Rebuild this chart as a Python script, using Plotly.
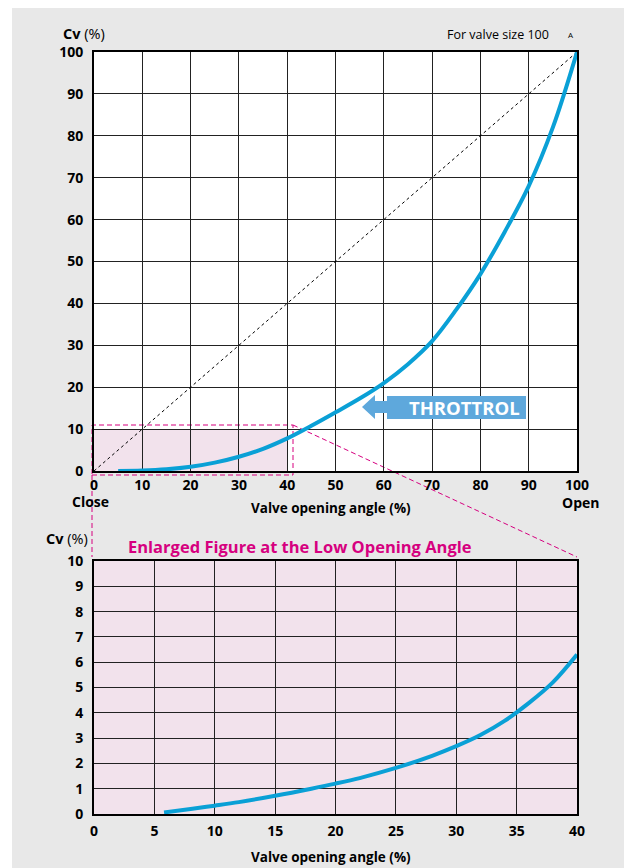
import plotly.graph_objects as go

# the page body adds an 8px margin, so the figure is 8px smaller than the window
OFF = 8
W, H = 632 - OFF, 868 - OFF

# ---------------- data ----------------
top_angle = [5, 10, 15, 20, 25, 30, 35, 40, 45, 50, 55, 60, 65, 70, 75, 80, 85, 90, 95, 100]
top_cv = [0.0, 0.1, 0.4, 1.0, 2.0, 3.4, 5.3, 7.8, 10.8, 14.0, 17.3, 21.0, 25.5, 31.0, 38.5, 47.0, 57.0, 68.0, 82.0, 100.0]

linear_angle = [0, 100]
linear_cv = [0, 100]

low_angle = [5.8, 8, 10, 12, 15, 18, 20, 22, 25, 28, 30, 32, 34, 36, 38, 40]
low_cv = [0.06, 0.2, 0.33, 0.47, 0.72, 1.0, 1.2, 1.42, 1.82, 2.3, 2.68, 3.12, 3.68, 4.38, 5.2, 6.3]

top_xticks = [0, 10, 20, 30, 40, 50, 60, 70, 80, 90, 100]
top_yticks = [0, 10, 20, 30, 40, 50, 60, 70, 80, 90, 100]
low_xticks = [0, 5, 10, 15, 20, 25, 30, 35, 40]
low_yticks = [0, 1, 2, 3, 4, 5, 6, 7, 8, 9, 10]

# ---------------- style ----------------
FONT = "Open Sans"
BLUE = "#0aa0d6"
MAGENTA = "#d6007f"
PINK = "#f2e2ec"
GRAY = "#e8e8e8"
ARROW = "#5ea8dc"


def px(x):
    return (x - OFF) / W


def py(y):
    return 1 - (y - OFF) / H


fig = go.Figure()

fig.add_trace(go.Scatter(x=linear_angle, y=linear_cv, mode="lines",
                         line=dict(color="black", width=1, dash="3px,3px"),
                         xaxis="x", yaxis="y", hoverinfo="skip", showlegend=False))
fig.add_trace(go.Scatter(x=top_angle, y=top_cv, mode="lines",
                         line=dict(color=BLUE, width=4, shape="spline"),
                         xaxis="x", yaxis="y", showlegend=False))
fig.add_trace(go.Scatter(x=low_angle, y=low_cv, mode="lines",
                         line=dict(color=BLUE, width=4, shape="spline"),
                         xaxis="x2", yaxis="y2", showlegend=False))

tickfont = dict(family=FONT, size=14, color="black", weight="bold")
axis_common = dict(showgrid=True, gridcolor="#222", gridwidth=1, zeroline=False,
                   showline=True, mirror=True, linecolor="black", linewidth=2,
                   tickfont=tickfont, ticks="", fixedrange=True, automargin=False)

fig.update_layout(
    width=W, height=H,
    margin=dict(l=0, r=0, t=0, b=0, pad=0, autoexpand=False),
    paper_bgcolor=GRAY,
    plot_bgcolor="white",
    showlegend=False,
    xaxis=dict(domain=[px(94), px(577)], range=[0, 100], tickvals=top_xticks,
               anchor="y", ticklabelstandoff=0, **axis_common),
    yaxis=dict(domain=[py(471), py(52)], range=[0, 100], tickvals=top_yticks,
               anchor="x", ticklabelstandoff=6, **axis_common),
    xaxis2=dict(domain=[px(94), px(577)], range=[0, 40], tickvals=low_xticks,
                anchor="y2", ticklabelstandoff=3, **axis_common),
    yaxis2=dict(domain=[py(814), py(561)], range=[0, 10], tickvals=low_yticks,
                anchor="x2", ticklabelstandoff=6, **axis_common),
)

shapes = []
# white strip on the left edge
shapes.append(dict(type="rect", xref="paper", yref="paper", x0=0, x1=px(12), y0=0, y1=1,
                   fillcolor="white", line=dict(width=0), layer="below"))
# pink areas
shapes.append(dict(type="rect", xref="x", yref="y", x0=0, x1=40, y0=0, y1=10,
                   fillcolor=PINK, line=dict(width=0), layer="below"))
shapes.append(dict(type="rect", xref="x2", yref="y2", x0=0, x1=40, y0=0, y1=10,
                   fillcolor=PINK, line=dict(width=0), layer="below"))
# magenta dashed zoom indicator
dash_line = dict(color=MAGENTA, width=1, dash="5px,3px")
shapes.append(dict(type="rect", xref="paper", yref="paper", x0=px(92), x1=px(293),
                   y0=py(475), y1=py(425), line=dash_line, layer="below"))
shapes.append(dict(type="line", xref="paper", yref="paper", x0=px(92), x1=px(92),
                   y0=py(475), y1=py(557), line=dash_line, layer="below"))
shapes.append(dict(type="line", xref="paper", yref="paper", x0=px(293), x1=px(577),
                   y0=py(425), y1=py(557), line=dash_line, layer="below"))
# THROTTROL arrow label
pts = [(362, 407), (375, 395), (375, 401), (387, 401), (387, 396), (526, 396),
       (526, 419), (387, 419), (387, 413), (375, 413), (375, 419)]
path = "M " + " L ".join(f"{px(a):.5f},{py(b):.5f}" for a, b in pts) + " Z"
shapes.append(dict(type="path", xref="paper", yref="paper", path=path,
                   fillcolor=ARROW, line=dict(width=0), layer="above"))
fig.update_layout(shapes=shapes)

ann = []


def text(x, y, s, size=13, weight="bold", color="black", xanchor="center"):
    ann.append(dict(x=px(x), y=py(y), xref="paper", yref="paper", text=s, showarrow=False,
                    xanchor=xanchor, yanchor="middle",
                    font=dict(family=FONT, size=size, color=color, weight=weight)))


text(61, 33, "<b>Cv</b> (%)", size=14.5, weight="normal", xanchor="left")
text(44, 538, "<b>Cv</b> (%)", size=14.5, weight="normal", xanchor="left")
text(551, 35, "For valve size 100", size=12.5, weight="normal", xanchor="right")
text(571, 35, "A", size=8, weight="normal")
text(90, 501, "Close", size=14)
text(580, 502, "Open", size=14)
text(331, 508, "Valve opening angle (%)", size=13.5)
text(331, 857, "Valve opening angle (%)", size=13.5)
text(300, 546, "Enlarged Figure at the Low Opening Angle", size=16.5, color=MAGENTA)
text(464, 408, "THROTTROL", size=18.5, color="white")
fig.update_layout(annotations=ann)

fig.write_html("out.html")
